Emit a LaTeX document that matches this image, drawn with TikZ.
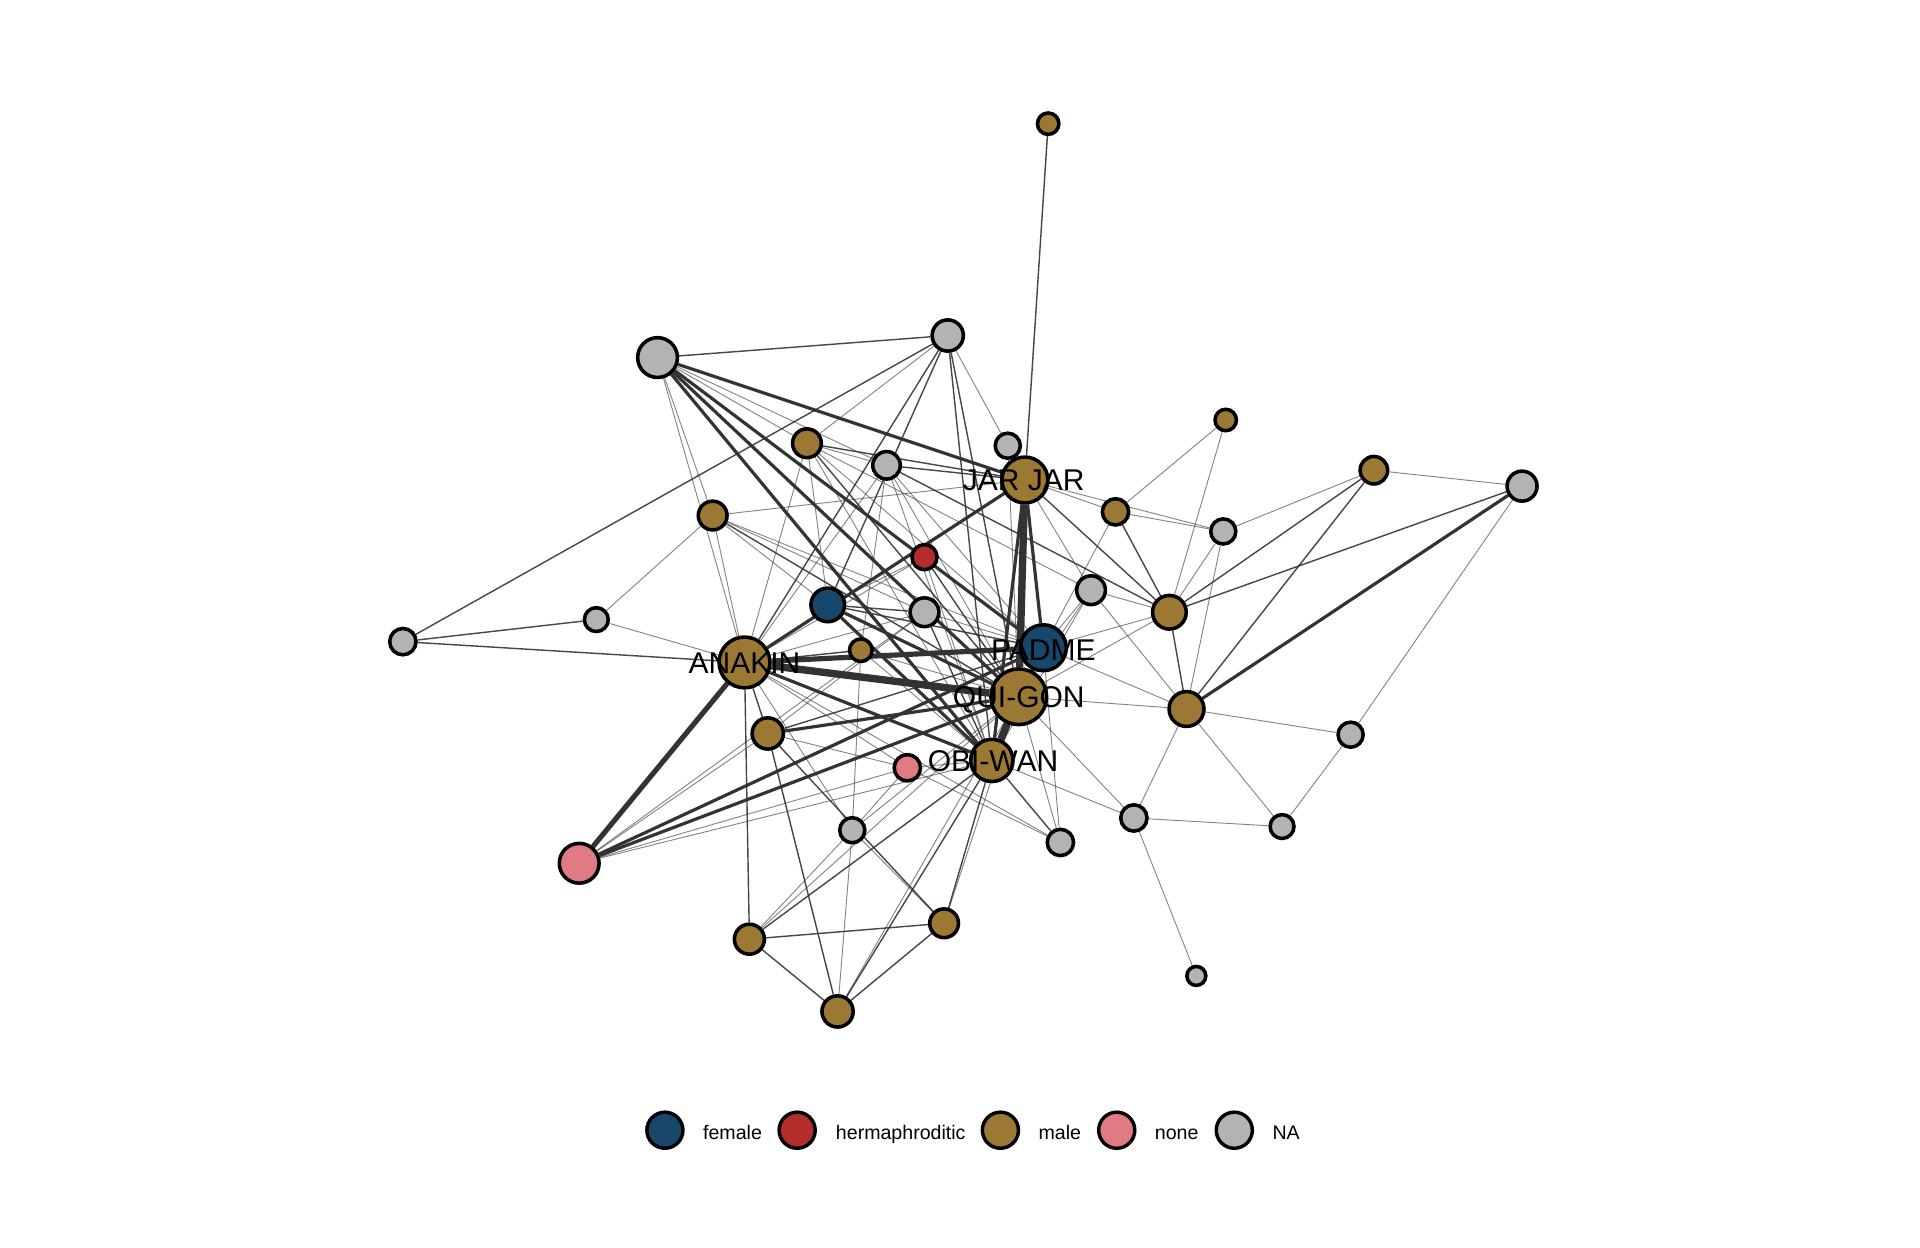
\documentclass[tikz,border=0pt]{standalone}
\usepackage{fontspec}
\setmainfont{Liberation Sans}
\pgfdeclarelayer{bg}
\pgfsetlayers{bg,main}
\definecolor{cfem}{HTML}{17476B}
\definecolor{cher}{HTML}{B22D2B}
\definecolor{cmal}{HTML}{9B7935}
\definecolor{cnon}{HTML}{E07A83}
\definecolor{cna}{HTML}{B3B3B3}
\definecolor{edk}{HTML}{333333}
\tikzset{
  nd/.style={circle, draw=black, line width=2.9pt, inner sep=0pt},
  male/.style={nd, fill=cmal},
  fem/.style={nd, fill=cfem},
  her/.style={nd, fill=cher},
  non/.style={nd, fill=cnon},
  nag/.style={nd, fill=cna},
  ea/.style={draw=edk, draw opacity=0.6, line width=0.75pt},
  eb/.style={draw=edk, draw opacity=0.9, line width=1.15pt},
  ec/.style={draw=edk, line width=2.6pt},
  ed/.style={draw=edk, line width=4.2pt},
  ee/.style={draw=edk, line width=6pt},
  lbl/.style={font=\fontsize{24.5}{28}\selectfont, anchor=base, inner sep=0pt, text=black},
  legc/.style={circle, draw=black, line width=2.8pt, minimum size=29.5pt, inner sep=0pt},
  legt/.style={font=\fontsize{16}{19}\selectfont, anchor=base west, inner sep=0pt}
}
\begin{document}
\begin{tikzpicture}[x=1pt,y=-1pt]
\useasboundingbox (0,0) rectangle (1568,1019);
\begin{pgfonlayer}{bg}
\fill[white] (0,0) rectangle (1568,1019);
\end{pgfonlayer}
% nodes
\node[male, minimum size=17.5pt] (n1) at (856,101) {};
\node[nag, minimum size=32.5pt] (n2) at (537,292) {};
\node[nag, minimum size=25.5pt] (n3) at (774,274) {};
\node[male, minimum size=23.5pt] (n4) at (659,362) {};
\node[nag, minimum size=20.5pt] (n5) at (823,364) {};
\node[nag, minimum size=22.5pt] (n6) at (724,380) {};
\node[male, minimum size=37.5pt] (JJ) at (837,392) {};
\node[male, minimum size=23.5pt] (n8) at (582,421) {};
\node[male, minimum size=21.5pt] (n9) at (911,418) {};
\node[male, minimum size=17.5pt] (n10) at (1001,343) {};
\node[male, minimum size=22.5pt] (n11) at (1122,384) {};
\node[nag, minimum size=24.5pt] (n12) at (1243,397) {};
\node[nag, minimum size=20.5pt] (n13) at (999,434) {};
\node[her, minimum size=20.5pt] (RED) at (755,455) {};
\node[fem, minimum size=27.5pt] (BLUE) at (676,494) {};
\node[nag, minimum size=23.5pt] (n16) at (755,500) {};
\node[nag, minimum size=23.5pt] (n17) at (891,482) {};
\node[male, minimum size=27.5pt] (n18) at (955,500) {};
\node[nag, minimum size=21.5pt] (n19) at (329,524) {};
\node[nag, minimum size=19.5pt] (n20) at (487,506) {};
\node[male, minimum size=18.5pt] (n21) at (703,531) {};
\node[male, minimum size=41.5pt] (AN) at (608,541) {};
\node[fem, minimum size=37.5pt] (PA) at (852,529) {};
\node[male, minimum size=45.5pt] (QG) at (832,569) {};
\node[male, minimum size=28.5pt] (n25) at (969,579) {};
\node[male, minimum size=25.5pt] (n26) at (627,599) {};
\node[non, minimum size=21.5pt] (PINK) at (741,627) {};
\node[male, minimum size=34.5pt] (OW) at (810,621) {};
\node[nag, minimum size=20.5pt] (n29) at (1103,600) {};
\node[nag, minimum size=21.5pt] (n30) at (926,668) {};
\node[nag, minimum size=19.5pt] (n31) at (1047,675) {};
\node[nag, minimum size=20.5pt] (n32) at (696,678) {};
\node[nag, minimum size=21.5pt] (n33) at (866,688) {};
\node[non, minimum size=32.5pt] (PINKB) at (473,705) {};
\node[male, minimum size=23.5pt] (n35) at (771,754) {};
\node[male, minimum size=24.5pt] (n36) at (612,767) {};
\node[male, minimum size=25.5pt] (n37) at (684,826) {};
\node[nag, minimum size=15.5pt] (n38) at (977,797) {};
% edges
\begin{pgfonlayer}{bg}
\draw[eb] (n1) -- (JJ);
\draw[eb] (n2) -- (n3);
\draw[ea] (n2) -- (n4);
\draw[ea] (n2) -- (n6);
\draw[ea] (n2) -- (n8);
\draw[ea] (n2) -- (AN);
\draw[ec] (n2) -- (JJ);
\draw[ec] (n2) -- (PA);
\draw[ec] (n2) -- (QG);
\draw[ec] (n2) -- (OW);
\draw[eb] (n3) -- (n19);
\draw[ea] (n3) -- (n4);
\draw[ea] (n3) -- (n5);
\draw[eb] (n3) -- (AN);
\draw[eb] (n3) -- (BLUE);
\draw[eb] (n3) -- (QG);
\draw[eb] (n3) -- (OW);
\draw[eb] (n19) -- (n20);
\draw[eb] (n19) -- (AN);
\draw[ea] (n20) -- (n8);
\draw[ea] (n20) -- (AN);
\draw[eb] (n4) -- (JJ);
\draw[ea] (n4) -- (n6);
\draw[ea] (n4) -- (AN);
\draw[ea] (n4) -- (BLUE);
\draw[ea] (n4) -- (PA);
\draw[eb] (n4) -- (QG);
\draw[ea] (n4) -- (OW);
\draw[ea] (n4) -- (n17);
\draw[ea] (n5) -- (JJ);
\draw[ea] (n5) -- (QG);
\draw[eb] (n6) -- (JJ);
\draw[ea] (n6) -- (n21);
\draw[eb] (n6) -- (n18);
\draw[ea] (n6) -- (PA);
\draw[ea] (n6) -- (OW);
\draw[ea] (n6) -- (QG);
\draw[ea] (n6) -- (AN);
\draw[ea] (n8) -- (JJ);
\draw[ea] (n8) -- (AN);
\draw[ea] (n8) -- (BLUE);
\draw[ea] (n8) -- (PA);
\draw[eb] (n8) -- (QG);
\draw[ea] (n8) -- (n16);
\draw[ea] (JJ) -- (n9);
\draw[ea] (JJ) -- (n13);
\draw[ea] (JJ) -- (n17);
\draw[eb] (JJ) -- (n18);
\draw[ee] (JJ) -- (QG);
\draw[ec] (JJ) -- (PA);
\draw[ec] (JJ) -- (OW);
\draw[ec] (JJ) -- (AN);
\draw[ea] (n9) -- (n10);
\draw[ea] (n9) -- (n13);
\draw[eb] (n9) -- (n18);
\draw[ea] (n9) -- (PA);
\draw[ea] (n10) -- (n18);
\draw[ea] (n11) -- (n12);
\draw[ea] (n11) -- (n13);
\draw[eb] (n11) -- (n18);
\draw[eb] (n11) -- (n25);
\draw[eb] (n12) -- (n18);
\draw[ec] (n12) -- (n25);
\draw[ea] (n12) -- (n29);
\draw[ea] (n13) -- (n18);
\draw[ea] (n13) -- (n25);
\draw[ea] (RED) -- (BLUE);
\draw[eb] (RED) -- (QG);
\draw[ea] (RED) -- (OW);
\draw[ea] (RED) -- (AN);
\draw[eb] (BLUE) -- (n16);
\draw[eb] (BLUE) -- (PA);
\draw[ec] (BLUE) -- (QG);
\draw[ec] (BLUE) -- (OW);
\draw[ea] (n16) -- (AN);
\draw[ea] (n16) -- (PA);
\draw[eb] (n16) -- (OW);
\draw[ea] (n16) -- (n26);
\draw[ea] (n16) -- (PINKB);
\draw[ea] (n17) -- (n18);
\draw[ea] (n17) -- (n25);
\draw[ea] (n17) -- (PA);
\draw[ea] (n17) -- (QG);
\draw[ea] (n17) -- (OW);
\draw[eb] (n18) -- (n25);
\draw[ea] (n18) -- (PA);
\draw[ea] (n18) -- (QG);
\draw[eb] (n21) -- (AN);
\draw[ea] (n21) -- (QG);
\draw[ea] (n21) -- (OW);
\draw[ea] (n21) -- (n32);
\draw[ed] (AN) -- (PA);
\draw[ee] (AN) -- (QG);
\draw[ec] (AN) -- (OW);
\draw[eb] (AN) -- (n26);
\draw[ed] (AN) -- (PINKB);
\draw[eb] (AN) -- (n36);
\draw[ea] (AN) -- (PINK);
\draw[ea] (AN) -- (n32);
\draw[ea] (AN) -- (n33);
\draw[ec] (PA) -- (QG);
\draw[ec] (PA) -- (OW);
\draw[ea] (PA) -- (n25);
\draw[eb] (PA) -- (n26);
\draw[ea] (PA) -- (n33);
\draw[ec] (PA) -- (PINKB);
\draw[ea] (QG) -- (n25);
\draw[ec] (QG) -- (n26);
\draw[ea] (QG) -- (n30);
\draw[ea] (QG) -- (n33);
\draw[ea] (QG) -- (n32);
\draw[ea] (QG) -- (n35);
\draw[ea] (QG) -- (n36);
\draw[ea] (QG) -- (n37);
\draw[ec] (QG) -- (PINKB);
\draw[ee] (QG) -- (OW);
\draw[ea] (n25) -- (n29);
\draw[ea] (n25) -- (n30);
\draw[ea] (n25) -- (n31);
\draw[ea] (n26) -- (PINK);
\draw[eb] (n26) -- (n37);
\draw[eb] (n26) -- (n35);
\draw[ea] (n26) -- (PINKB);
\draw[ea] (PINK) -- (PINKB);
\draw[ea] (PINK) -- (n33);
\draw[ea] (PINK) -- (OW);
\draw[ea] (PINK) -- (n32);
\draw[ea] (OW) -- (PINKB);
\draw[ea] (OW) -- (n30);
\draw[eb] (OW) -- (n33);
\draw[eb] (OW) -- (n35);
\draw[eb] (OW) -- (n36);
\draw[eb] (OW) -- (n37);
\draw[ea] (n29) -- (n31);
\draw[ea] (n30) -- (n31);
\draw[ea] (n30) -- (n38);
\draw[ea] (n32) -- (n35);
\draw[ea] (n32) -- (n36);
\draw[ea] (n32) -- (n37);
\draw[eb] (n35) -- (n36);
\draw[eb] (n35) -- (n37);
\draw[eb] (n36) -- (n37);
\end{pgfonlayer}
% labels
\node[lbl] (tAN) at (608,549.7) {ANAKIN};
\node[lbl] (tJJ) at (836,400.7) {JAR JAR};
\node[lbl] (tPA) at (852,539.7) {PADME};
\node[lbl] (tQG) at (832,577.7) {QUI-GON};
\node[lbl] (tOW) at (811,629.7) {OBI-WAN};
% legend
\node[legc, fill=cfem] (lf) at (543,923) {};
\node[legt] (tf) at (574,930.5) {female};
\node[legc, fill=cher] (lh) at (651,923) {};
\node[legt] (th) at (682.5,930.5) {hermaphroditic};
\node[legc, fill=cmal] (lm) at (817,923) {};
\node[legt] (tm) at (848,930.5) {male};
\node[legc, fill=cnon] (ln) at (912,923) {};
\node[legt] (tn) at (943,930.5) {none};
\node[legc, fill=cna] (lna) at (1008,923) {};
\node[legt] (tna) at (1039,930.5) {NA};
\end{tikzpicture}
\end{document}
